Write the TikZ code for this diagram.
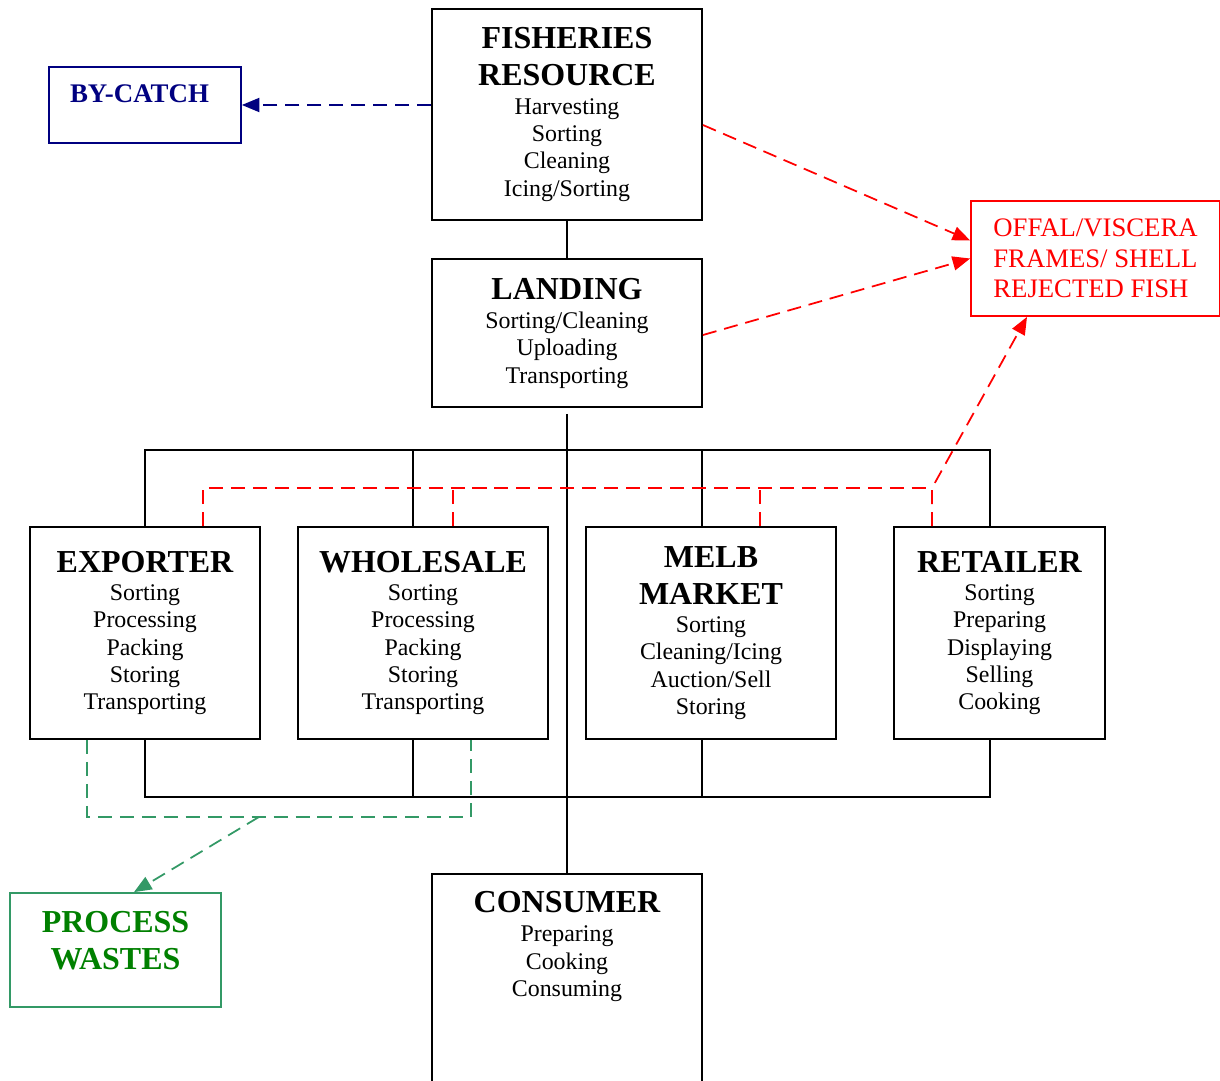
\documentclass[tikz,border=0pt]{standalone}
\usepackage{fontspec}
\setmainfont{Liberation Serif}
\usetikzlibrary{arrows.meta,calc}

\definecolor{navy}{RGB}{0,0,128}
\definecolor{seagreen}{RGB}{51,153,102}
\definecolor{leafgreen}{RGB}{0,128,0}
\newcommand{\boxhead}{\fontsize{18.2}{21}\selectfont\bfseries}
\newcommand{\boxbody}{\fontsize{13.6}{15.6}\selectfont}

\begin{document}
\begin{tikzpicture}[x=0.02cm, y=-0.02cm,
  box/.style={draw, line width=1.1pt, inner sep=0pt, align=center, font=\boxbody},
  link/.style={line width=1.1pt},
  waste/.style={red, line width=1pt, dash pattern=on 8pt off 4.5pt},
  tip/.style={-{Triangle[length=10pt,width=8pt]}}]
  \useasboundingbox (0,0) rectangle (1220,1081);
  \clip (0,0) rectangle (1220,1081);

  % stages of the chain
  \node[box, minimum width=5.4cm, minimum height=4.22cm] (fish) at (567,114.5)
    {\boxhead FISHERIES\\[5.4pt]\boxhead RESOURCE\\[0.6pt]Harvesting\\Sorting\\Cleaning\\Icing/Sorting};
  \node[box, minimum width=5.4cm, minimum height=2.96cm] (landing) at (567,333)
    {\boxhead LANDING\\[1pt]Sorting/Cleaning\\Uploading\\Transporting};
  \node[box, minimum width=4.6cm, minimum height=4.24cm] (exporter) at (145,633)
    {\boxhead EXPORTER\\[0.4pt]Sorting\\Processing\\Packing\\Storing\\Transporting};
  \node[box, minimum width=5cm, minimum height=4.24cm] (wholesale) at (423,633)
    {\boxhead WHOLESALE\\[0.4pt]Sorting\\Processing\\Packing\\Storing\\Transporting};
  \node[box, minimum width=5cm, minimum height=4.24cm] (melb) at (711,633)
    {\boxhead MELB\\[5.4pt]\boxhead MARKET\\[0.4pt]Sorting\\Cleaning/Icing\\Auction/Sell\\Storing};
  \node[box, minimum width=4.22cm, minimum height=4.24cm] (retailer) at (999.5,633)
    {\boxhead RETAILER\\[0.4pt]Sorting\\Preparing\\Displaying\\Selling\\Cooking};
  \node[box, minimum width=5.4cm, minimum height=5.2cm, anchor=north] (consumer) at (567,873) {};
  \node[align=center, font=\boxbody, inner sep=0pt, anchor=north] (consumertext) at (567,891)
    {\boxhead CONSUMER\\[1pt]Preparing\\Cooking\\Consuming};

  % losses
  \node[box, draw=navy, line width=1pt, minimum width=3.84cm, minimum height=1.52cm] (bycatch) at (145,105) {};
  \node[text=navy, font=\fontsize{15.3}{18}\selectfont\bfseries, inner sep=0pt] (bycatchtext) at (139.5,94) {BY-CATCH};
  \node[box, draw=red, line width=1pt, text=red, align=left, minimum width=4.98cm, minimum height=2.3cm,
    font=\fontsize{15.2}{17.4}\selectfont] (offal) at (1095.5,258.5) {OFFAL/VISCERA\\FRAMES/ SHELL\\REJECTED FISH};
  \node[box, draw=seagreen, line width=1pt, minimum width=4.22cm, minimum height=2.28cm] (process) at (115.5,950) {};
  \node[align=center, text=leafgreen, font=\boxhead, inner sep=0pt] (processtext) at (115.5,941) {PROCESS\\WASTES};

  % product flow
  \draw[link] (fish) -- (landing);
  \draw[link] ([yshift=-3.4pt]landing.south) -- (consumer.north);
  \draw[link] (exporter.north) -- ++(0,-76) -| ($(retailer.north)+(-9.5,0)$);
  \draw[link] (exporter.south) -- ++(0,57) -| ($(retailer.south)+(-9.5,0)$);
  \foreach \b/\dx in {wholesale/-10, melb/-9} {
    \draw[link] ($(\b.north)+(\dx,0)$) -- ++(0,-76);
    \draw[link] ($(\b.south)+(\dx,0)$) -- ++(0,57);
  }

  % waste flow
  \draw[waste, tip] ($(fish.east)+(0,10.5)$) -- ($(offal.west)+(0,-18)$);
  \draw[waste, tip] ($(landing.east)+(0,2)$) -- (offal.west);
  \coordinate (knee) at ($(retailer.north)+(-67.5,-38)$);
  \draw[waste] ($(exporter.north)+(58,0)$) |- (knee);
  \draw[waste] ($(wholesale.north)+(30,0)$) -- ++(0,-38);
  \draw[waste] ($(melb.north)+(49,0)$) -- ++(0,-38);
  \draw[waste, tip] ($(retailer.north)+(-67.5,0)$) -- (knee) -- ($(offal.south)+(-68.5,0)$);
  \draw[link, navy, dash pattern=on 8pt off 4.5pt, tip] ($(fish.west)+(0,-9.5)$) -- (bycatch.east);

  \coordinate (spill) at ($(exporter.south)+(114,77)$);
  \draw[waste, seagreen] ($(exporter.south)+(-58,0)$) -- ++(0,77) -| ($(wholesale.south)+(48,0)$);
  \draw[waste, seagreen, tip] (spill) -- ($(process.north)+(18.5,0)$);
\end{tikzpicture}
\end{document}
